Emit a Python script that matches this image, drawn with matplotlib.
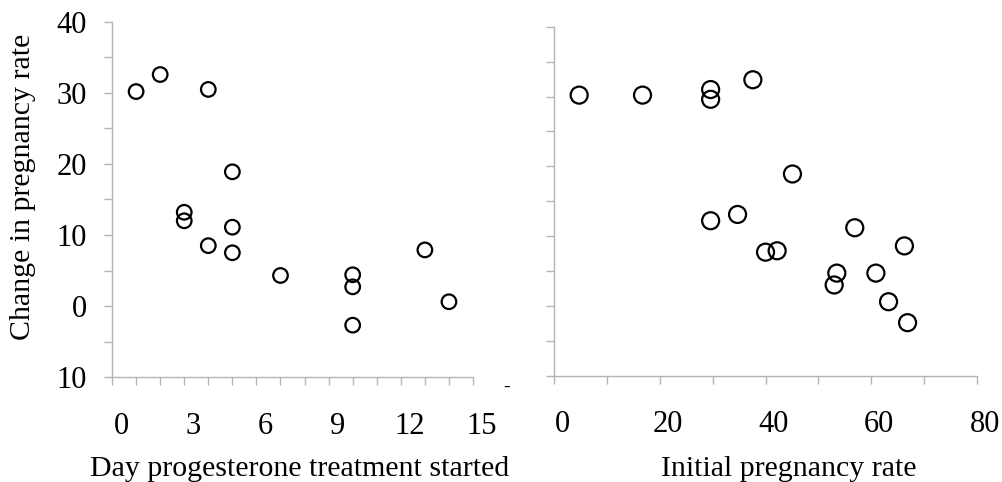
import matplotlib
matplotlib.use("Agg")
import matplotlib.pyplot as plt
from matplotlib.transforms import ScaledTranslation

plt.rcParams['font.family'] = ['Liberation Serif', 'DejaVu Serif']

# left panel: day progesterone treatment started vs change in pregnancy rate
day_started = [1, 2, 4, 3, 3, 4, 5, 5, 5, 7, 10, 10, 10, 13, 14]
change_left = [30.2, 32.6, 30.5, 13.2, 12.0, 8.5, 18.9, 11.1, 7.5, 4.3, 4.4, 2.7, -2.7, 7.9, 0.6]

# right panel: initial pregnancy rate vs change in pregnancy rate
initial_rate = [4.7, 16.7, 29.6, 29.6, 37.6, 45.1, 29.6, 34.7, 40.0, 42.2,
                56.9, 66.3, 53.5, 53.0, 60.9, 63.3, 66.9]
change_right = [30.2, 30.2, 31.0, 29.6, 32.4, 18.9, 12.2, 13.1, 7.7, 7.9,
                11.2, 8.6, 4.7, 3.0, 4.7, 0.6, -2.4]

left_xticks = [0, 3, 6, 9, 12, 15]
right_xticks = [0, 20, 40, 60, 80]
left_yticks = [-10, 0, 10, 20, 30, 40]
left_yticklabels = ['10', '0', '10', '20', '30', '40']

fig = plt.figure(figsize=(10.03, 4.82), dpi=100)
ax1 = fig.add_axes([0.1117, 0.2178, 0.3599, 0.7366])
ax2 = fig.add_axes([0.5527, 0.2205, 0.4211, 0.7241])

spine_col = '#b4b4b4'
for ax in (ax1, ax2):
    for s in ('top', 'right'):
        ax.spines[s].set_visible(False)
    for s in ('left', 'bottom'):
        ax.spines[s].set_color(spine_col)
        ax.spines[s].set_linewidth(1.0)
    ax.tick_params(which='both', color=spine_col, length=6, width=1.0,
                   direction='out', labelsize=22)
    ax.set_ylim(-10, 40)
    ax.set_yticks(range(-10, 41, 5), minor=True)

ax1.scatter(day_started, change_left, s=110, facecolors='none',
            edgecolors='black', linewidths=1.6, zorder=3)
ax1.set_xlim(0, 15)
ax1.set_xticks(left_xticks)
ax1.set_xticks(range(0, 16), minor=True)
ax1.set_yticks(left_yticks)
ax1.set_yticklabels(left_yticklabels)
ax1.tick_params(axis='x', which='major', pad=19)
ax1.tick_params(axis='y', which='major', pad=12)
for lab in ax1.get_xticklabels():
    lab.set_transform(lab.get_transform() + ScaledTranslation(9 / 100, 0, fig.dpi_scale_trans))
ax1.set_xlabel('Day progesterone treatment started', fontsize=21.5)
ax1.xaxis.set_label_coords(0.52, -0.222)
ax1.xaxis.label.set_va('top')
ax1.set_ylabel('Change in pregnancy rate', fontsize=21.5)
ax1.yaxis.set_label_coords(-0.21, 0.535)
fig.text(507 / 1003, 1 - 387 / 482, '-', fontsize=14, ha='center', va='center')

ax2.scatter(initial_rate, change_right, s=150, facecolors='none',
            edgecolors='black', linewidths=1.6, zorder=3)
ax2.set_xlim(0, 80)
ax2.set_xticks(right_xticks)
ax2.set_xticks(range(0, 81, 10), minor=True)
ax2.set_yticks(left_yticks)
ax2.set_yticklabels([])
ax2.tick_params(axis='x', which='major', pad=19)
for lab in ax2.get_xticklabels():
    lab.set_transform(lab.get_transform() + ScaledTranslation(8 / 100, 0, fig.dpi_scale_trans))
ax2.set_xlabel('Initial pregnancy rate', fontsize=21.5)
ax2.xaxis.set_label_coords(0.554, -0.23)
ax2.xaxis.label.set_va('top')

fig.savefig('out.png', dpi=100)
